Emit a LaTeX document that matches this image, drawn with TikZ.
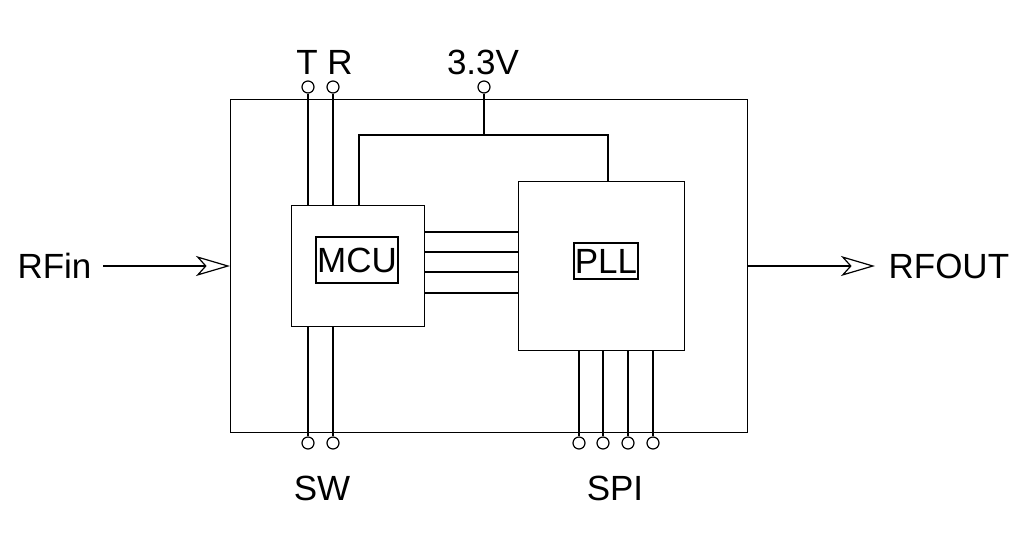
\documentclass[tikz,border=0pt]{standalone}
\usepackage{fontspec}
\setmainfont{Liberation Sans}
\usetikzlibrary{arrows.meta}
\begin{document}
\begin{tikzpicture}[x=1pt,y=-1pt,line width=1.2pt,
  box/.style={draw,inner sep=0pt,anchor=north west},
  pin/.style={draw,circle,fill=white,minimum size=12pt,inner sep=0pt},
  lbl/.style={font=\fontsize{35}{35}\selectfont,inner sep=0pt},
  sig/.style={-{Stealth[open,length=34pt,width=20pt,inset=9pt]}}]
\useasboundingbox (0,0) rectangle (1028,542);
\node[box,minimum width=517pt,minimum height=333pt] (outer) at (230,99) {};
\node[box,minimum width=133pt,minimum height=121pt] (mcu) at (291,205) {};
\node[box,minimum width=166pt,minimum height=169pt] (pll) at (518,181) {};
\node[draw,lbl,minimum width=82pt,minimum height=46pt] (mcul) at (357,260) {MCU};
\node[draw,lbl,minimum width=64pt,minimum height=36pt] (plll) at (606,261) {PLL};
\foreach \y in {232,252,272,293} \draw (424,\y) -- (518,\y);
\node[pin] (pt) at (308,87) {};
\node[pin] (pr) at (333,87) {};
\node[pin] (pv) at (484,87) {};
\draw (pt) -- (308,205);
\draw (pr) -- (333,205);
\coordinate (vj) at (484,135);
\draw (pv) -- (vj);
\draw (359,205) -- (359,135) -- (608,135) -- (608,181);
\node[lbl] (lt) at (307,62) {T};
\node[lbl] (lr) at (340,62) {R};
\node[lbl] (lv) at (483,62) {3.3V};
\foreach \x/\n in {308/s1,333/s2} {\node[pin] (\n) at (\x,443) {}; \draw (\x,326) -- (\n);}
\foreach \x/\n in {579/p1,603/p2,628/p3,653/p4} {\node[pin] (\n) at (\x,443) {}; \draw (\x,350) -- (\n);}
\node[lbl] (lsw) at (322,488) {SW};
\node[lbl] (lspi) at (615,488) {SPI};
\node[lbl,anchor=east] (rfin) at (92,266) {RFin};
\coordinate (oin) at (230,266);
\draw[sig] (103,266) -- (oin);
\node[lbl,anchor=west] (rfout) at (888,266) {RFOUT};
\draw[sig] (747,266) -- (875,266);
\end{tikzpicture}
\end{document}
